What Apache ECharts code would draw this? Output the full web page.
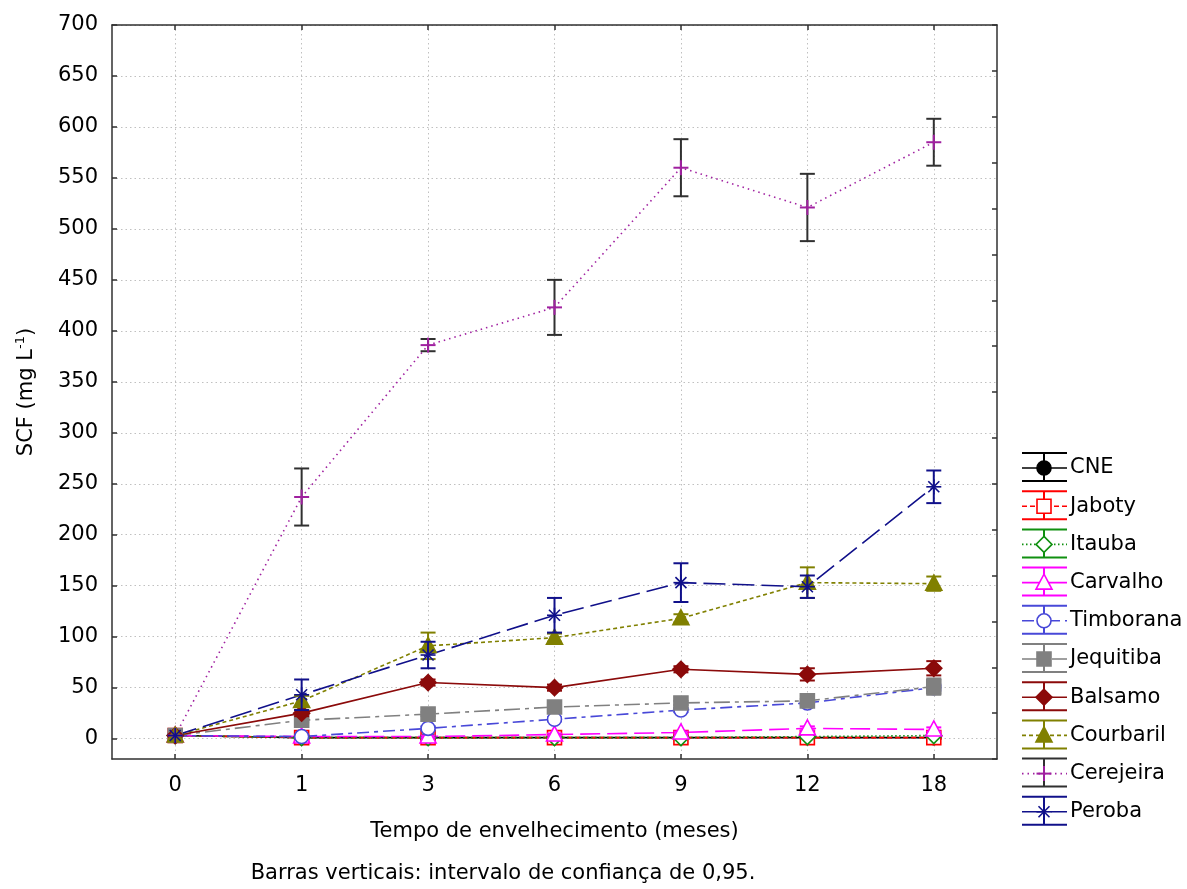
<!DOCTYPE html>
<html><head><meta charset="utf-8">
<script src="https://cdn.jsdelivr.net/npm/echarts@6/dist/echarts.min.js"></script>
<style>html,body{margin:0;padding:0;background:#fff}#c{width:1187px;height:889px}</style>
</head><body><div id="c"></div>
<script>
// ---- data ----
const categories = ['0', '1', '3', '6', '9', '12', '18'];
const yTicks = [0, 50, 100, 150, 200, 250, 300, 350, 400, 450, 500, 550, 600, 650, 700];
const seriesNames = ['CNE', 'Jaboty', 'Itauba', 'Carvalho', 'Timborana', 'Jequitiba', 'Balsamo', 'Courbaril', 'Cerejeira', 'Peroba'];
const cne       = [3, 1, 1, 1, 1, 1, 1];
const jaboty    = [3, 1, 1, 1, 1, 1, 1];
const itauba    = [3, 1, 1, 1, 1, 2, 3];
const carvalho  = [3, 2, 2, 4, 6, 10, 9];
const timborana = [3, 2, 10, 19, 28, 35, 50];
const jequitiba = [3, 18, 24, 31, 35, 37, 51];
const balsamo   = [3, 25, 55, 50, 68, 63, 69];
const courbaril = [3, 37, 91, 99, 118, 153, 152];
const cerejeira = [3, 237, 386, 423, 560, 521, 585];
const peroba    = [3, 43, 82, 121, 153, 149, 247];
// half-widths of the 95% confidence intervals
const cneErr       = [0, 1, 1, 1, 1, 1, 1];
const jabotyErr    = [0, 1, 1, 1, 1, 1, 1];
const itaubaErr    = [0, 1, 1, 1, 1, 1, 1];
const carvalhoErr  = [0, 1, 1, 1, 1, 2, 2];
const timboranaErr = [0, 1, 2, 2, 2, 2, 3];
const jequitibaErr = [0, 2, 2, 2, 2, 2, 8];
const balsamoErr   = [0, 3, 3, 3, 3, 6, 7];
const courbarilErr = [0, 5, 13, 4, 4, 15, 7];
const cerejeiraErr = [0, 28, 6, 27, 28, 33, 23];
const perobaErr    = [0, 15, 13, 17, 19, 11, 16];

const values = [cne, jaboty, itauba, carvalho, timborana, jequitiba, balsamo, courbaril, cerejeira, peroba];
const errors = [cneErr, jabotyErr, itaubaErr, carvalhoErr, timboranaErr, jequitibaErr, balsamoErr, courbarilErr, cerejeiraErr, perobaErr];

// ---- styles ----
const FONT = "'DejaVu Sans', 'Liberation Sans', Arial, sans-serif";
const styles = [
  {color: '#000000', bar: '#000000', dash: 'solid', marker: 'circle', fill: true},
  {color: '#ff0000', bar: '#ff0000', dash: [5, 3], marker: 'rect', fill: false},
  {color: '#109010', bar: '#109010', dash: [1.5, 2.5], marker: 'diamond', fill: false},
  {color: '#ff00ff', bar: '#ff00ff', dash: [20, 7], marker: 'triangle', fill: false},
  {color: '#4848d8', bar: '#4848d8', dash: [12, 5, 4, 5], marker: 'circle', fill: false},
  {color: '#808080', bar: '#808080', dash: [16, 5, 4, 5], marker: 'rect', fill: true},
  {color: '#8b0a0a', bar: '#8b0a0a', dash: 'solid', marker: 'diamond', fill: true},
  {color: '#808000', bar: '#808000', dash: [4, 3], marker: 'triangle', fill: true},
  {color: '#a020a0', bar: '#303030', dash: [1.5, 4], marker: 'plus', fill: false},
  {color: '#10108a', bar: '#10108a', dash: [22, 7], marker: 'asterisk', fill: false}
];

function markerEls(type, cx, cy, color, fill) {
  const f = fill ? color : '#ffffff';
  const st = {fill: f, stroke: color, lineWidth: 1.6};
  const r = 7.5;
  switch (type) {
    case 'circle': return [{type: 'circle', shape: {cx, cy, r: 7}, style: st}];
    case 'rect': return [{type: 'rect', shape: {x: cx - 7, y: cy - 7, width: 14, height: 14}, style: st}];
    case 'diamond': return [{type: 'polygon', shape: {points: [[cx, cy - 8], [cx + 8, cy], [cx, cy + 8], [cx - 8, cy]]}, style: st}];
    case 'triangle': return [{type: 'polygon', shape: {points: [[cx, cy - 8.5], [cx + 8, cy + 6.5], [cx - 8, cy + 6.5]]}, style: st}];
    case 'plus': return [
      {type: 'line', shape: {x1: cx - r, y1: cy, x2: cx + r, y2: cy}, style: {stroke: color, lineWidth: 2}},
      {type: 'line', shape: {x1: cx, y1: cy - r, x2: cx, y2: cy + r}, style: {stroke: color, lineWidth: 2}}];
    case 'asterisk': {
      const d = 5.5;
      return [
        {type: 'line', shape: {x1: cx - r, y1: cy, x2: cx + r, y2: cy}, style: {stroke: color, lineWidth: 1.6}},
        {type: 'line', shape: {x1: cx, y1: cy - r, x2: cx, y2: cy + r}, style: {stroke: color, lineWidth: 1.6}},
        {type: 'line', shape: {x1: cx - d, y1: cy - d, x2: cx + d, y2: cy + d}, style: {stroke: color, lineWidth: 1.6}},
        {type: 'line', shape: {x1: cx - d, y1: cy + d, x2: cx + d, y2: cy - d}, style: {stroke: color, lineWidth: 1.6}}];
    }
  }
  return [];
}

const series = [];
seriesNames.forEach((name, i) => {
  const s = styles[i];
  series.push({
    name, type: 'line', xAxisIndex: 0, yAxisIndex: 0, z: 2,
    data: values[i].map((v, k) => [k, v]),
    symbol: 'none',
    lineStyle: {color: s.color, width: 1.6, type: s.dash},
    animation: false
  });
});
seriesNames.forEach((name, i) => {
  const s = styles[i];
  series.push({
    name: name + ' IC', type: 'custom', xAxisIndex: 0, yAxisIndex: 0, z: 3 + i * 0.01,
    data: values[i].map((v, k) => [k, v, errors[i][k]]),
    encode: {x: 0, y: 1},
    renderItem: (params, api) => {
      const x = api.value(0), v = api.value(1), e = api.value(2);
      const c = api.coord([x, v]);
      const children = [];
      if (e > 0) {
        const hi = api.coord([x, v + e]), lo = api.coord([x, v - e]);
        const w = 7.5, bs = {stroke: s.bar, lineWidth: 2};
        children.push({type: 'line', shape: {x1: hi[0], y1: hi[1], x2: lo[0], y2: lo[1]}, style: bs});
        children.push({type: 'line', shape: {x1: hi[0] - w, y1: hi[1], x2: hi[0] + w, y2: hi[1]}, style: bs});
        children.push({type: 'line', shape: {x1: lo[0] - w, y1: lo[1], x2: lo[0] + w, y2: lo[1]}, style: bs});
      }
      markerEls(s.marker, c[0], c[1], s.color, s.fill).forEach(el => children.push(el));
      return {type: 'group', children};
    },
    animation: false
  });
});

// legend graphic
const legendEls = [];
seriesNames.forEach((name, i) => {
  const s = styles[i];
  const cy = 468 + i * 38.2;
  const x1 = 1022, x2 = 1067, xm = 1044;
  const bs = {stroke: s.bar, lineWidth: 2};
  legendEls.push({type: 'line', shape: {x1, y1: cy - 15, x2, y2: cy - 15}, style: bs});
  legendEls.push({type: 'line', shape: {x1, y1: cy + 13, x2, y2: cy + 13}, style: bs});
  legendEls.push({type: 'line', shape: {x1: xm, y1: cy - 15, x2: xm, y2: cy + 13}, style: bs});
  legendEls.push({type: 'line', shape: {x1, y1: cy, x2, y2: cy}, style: {stroke: s.color, lineWidth: 1.6, lineDash: s.dash === 'solid' ? null : s.dash}});
  markerEls(s.marker, xm, cy, s.color, s.fill).forEach(el => legendEls.push(el));
  legendEls.push({type: 'text', x: 1070, y: cy, style: {text: name, fill: '#000', font: '21px ' + FONT, textVerticalAlign: 'middle', textAlign: 'left'}});
});
legendEls.push({type: 'text', x: 503, y: 874, style: {text: 'Barras verticais: intervalo de confiança de 0,95.', fill: '#000', font: '21px ' + FONT, textAlign: 'center', textVerticalAlign: 'middle'}});

const catIdx = categories.map((c, k) => k);
const axisLineStyle = {color: '#303030', width: 1.5};
const gridLine = {show: true, lineStyle: {color: '#c0c0c0', width: 1, type: [1.5, 3]}};

const option = {
  backgroundColor: '#ffffff',
  animation: false,
  grid: {left: 112, right: 190, top: 25, bottom: 130, containLabel: false},
  xAxis: [
    {type: 'value', position: 'bottom', min: -0.5, max: 6.5,
     axisLine: {show: true, onZero: false, lineStyle: axisLineStyle},
     axisTick: {show: true, inside: true, length: 5, customValues: catIdx, lineStyle: axisLineStyle},
     axisLabel: {customValues: catIdx, formatter: v => categories[Math.round(v)], fontSize: 21, color: '#000', fontFamily: FONT, margin: 16},
     splitLine: gridLine,
     name: 'Tempo de envelhecimento (meses)', nameLocation: 'middle', nameGap: 62,
     nameTextStyle: {fontSize: 21, color: '#000', fontFamily: FONT}},
    {type: 'value', position: 'top', min: -0.5, max: 6.5,
     axisLine: {show: true, onZero: false, lineStyle: axisLineStyle},
     axisTick: {show: true, inside: true, length: 5, customValues: catIdx, lineStyle: axisLineStyle},
     axisLabel: {show: false}, splitLine: {show: false}}
  ],
  yAxis: [
    {type: 'value', position: 'left', min: -20, max: 700,
     axisLine: {show: true, onZero: false, lineStyle: axisLineStyle},
     axisTick: {show: true, inside: true, length: 5, customValues: yTicks, lineStyle: axisLineStyle},
     axisLabel: {customValues: yTicks, fontSize: 21, color: '#000', fontFamily: FONT, margin: 14},
     splitLine: gridLine,
     name: 'SCF (mg L{sup|-1})', nameLocation: 'middle', nameRotate: 90, nameGap: 73,
     nameTextStyle: {fontSize: 21, color: '#000', fontFamily: FONT,
       rich: {sup: {fontSize: 13, fontFamily: FONT, color: '#000', padding: [0, 0, 12, 0]}}}},
    {type: 'value', position: 'right', min: 0, max: 16, interval: 1,
     axisLine: {show: true, onZero: false, lineStyle: axisLineStyle},
     axisTick: {show: true, inside: true, length: 5, lineStyle: axisLineStyle},
     axisLabel: {show: false}, splitLine: {show: false}}
  ],
  graphic: legendEls,
  series
};
const chart = echarts.init(document.getElementById('c'), null, {renderer: 'canvas'});
chart.setOption(option);
</script></body></html>
